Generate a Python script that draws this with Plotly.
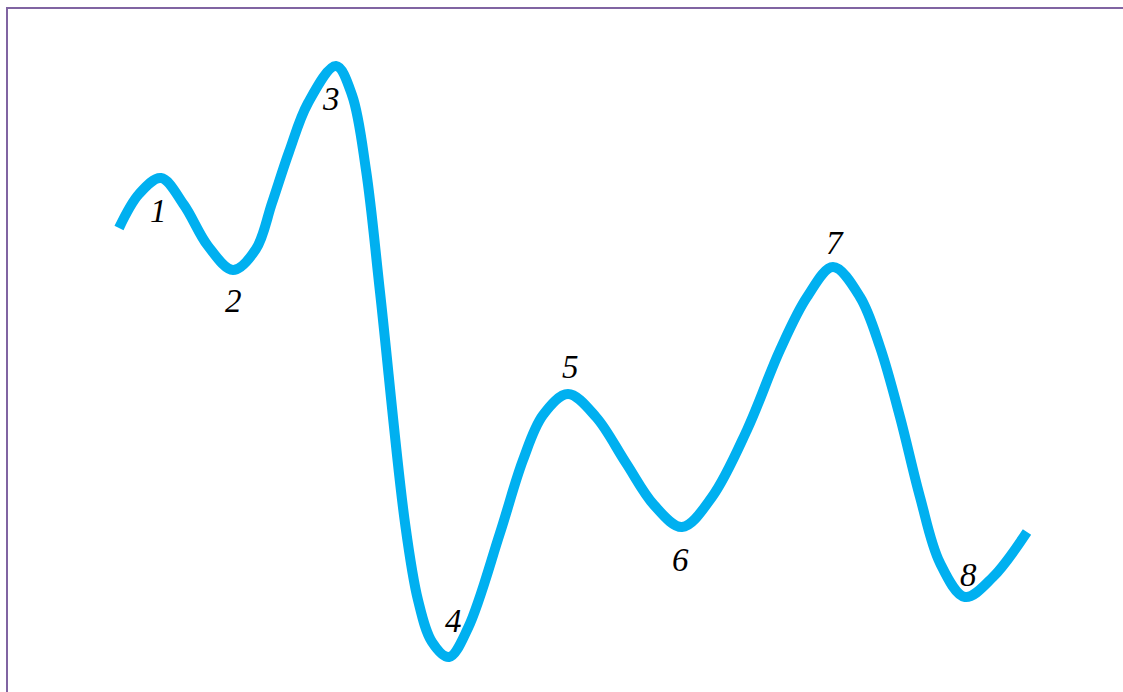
import plotly.graph_objects as go

# Wave path (x: bar index in px units, y: px from top)
x_vals = [119, 139, 161, 184, 208, 233, 256, 272, 289, 308, 336, 352, 366,
          380, 405, 418, 432, 449, 468, 500, 523, 543, 568, 596, 626, 654,
          682, 712, 747, 780, 807, 833, 860, 880, 900, 920, 940, 965, 993,
          1027]
y_px = [228, 194, 178, 205, 246, 270, 249, 203, 152, 103, 66, 95, 170,
        292, 523, 600, 642, 657, 628, 533, 460, 415, 394, 417, 463, 505,
        527, 497, 430, 350, 297, 267, 297, 347, 417, 497, 563, 597, 577,
        532]

# Wave labels
label_text = ["1", "2", "3", "4", "5", "6", "7", "8"]
label_x = [158, 233, 331, 453, 570, 680, 835, 968]
label_y_px = [211, 301, 99, 621, 367, 560, 243, 575]

W, H = 1123, 692
LINE_COLOR = "#00B0F0"
FRAME_COLOR = "#8064A2"
FONT_FAMILY = "Liberation Serif, Times New Roman, serif"

prices = [H - v for v in y_px]
label_prices = [H - v for v in label_y_px]

fig = go.Figure()
fig.add_trace(
    go.Scatter(
        x=x_vals,
        y=prices,
        mode="lines",
        line=dict(color=LINE_COLOR, width=10, shape="spline", smoothing=1.0),
        hoverinfo="skip",
        showlegend=False,
    )
)

for t, lx, ly in zip(label_text, label_x, label_prices):
    fig.add_annotation(
        x=lx,
        y=ly,
        text=f"<i>{t}</i>",
        showarrow=False,
        font=dict(family=FONT_FAMILY, size=33, color="black"),
        xanchor="center",
        yanchor="middle",
    )

# frame (runs off the right and bottom edges)
fig.add_shape(
    type="rect",
    x0=7, x1=W + 40, y0=H - 8, y1=-40,
    line=dict(color=FRAME_COLOR, width=2),
    fillcolor="rgba(0,0,0,0)",
    layer="below",
)

fig.update_xaxes(range=[0, W], visible=False, fixedrange=True)
fig.update_yaxes(range=[0, H], visible=False, fixedrange=True)
fig.update_layout(
    width=W,
    height=H,
    margin=dict(l=0, r=0, t=0, b=0),
    paper_bgcolor="white",
    plot_bgcolor="white",
    showlegend=False,
)

# drop the default 8px page margin so the figure sits at the window corner
fig.write_html(
    "out.html",
    config={"displayModeBar": False},
    post_script="document.body.style.margin='0';document.body.style.overflow='hidden';",
)
